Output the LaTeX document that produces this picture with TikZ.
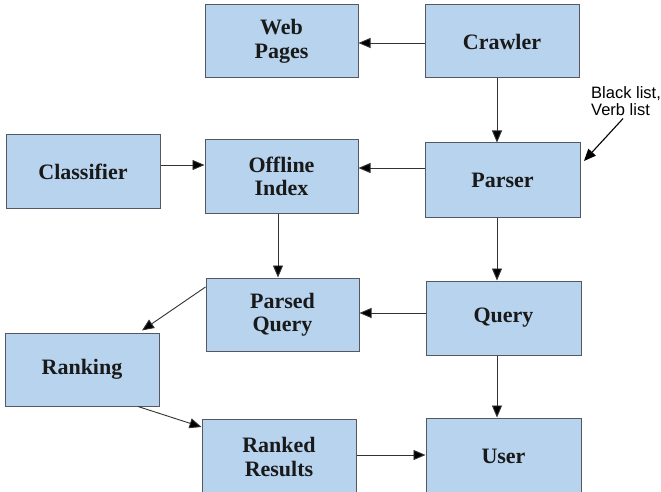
\documentclass[tikz,border=0pt]{standalone}
\usepackage{fontspec}
\setmainfont{Liberation Serif}
\newfontfamily\labelfont{Liberation Sans}
\usetikzlibrary{arrows.meta}
\definecolor{boxfill}{RGB}{183,211,238}
\definecolor{boxline}{RGB}{85,88,96}
\definecolor{arrline}{RGB}{50,50,50}
\tikzset{
  blk/.style={draw=boxline, line width=1pt, fill=boxfill, minimum width=154pt, minimum height=73pt,
    inner sep=0pt, align=center, font=\fontsize{22pt}{23.5pt}\selectfont\bfseries, text=black!90},
  arr/.style={draw=arrline, line width=0.9pt, -{Triangle[length=12pt,width=10pt,fill=black]}}
}
\begin{document}
\begin{tikzpicture}[x=1pt,y=-1pt]
\useasboundingbox (0,0) rectangle (661,492);
\fill[white] (0,0) rectangle (661,492);
\node[blk, minimum width=153pt] (web) at (281.5,41.5) {Web\\Pages};
\node[blk] (crawler) at (502,41.5) {Crawler};
\node[blk] (classifier) at (83,171.5) {Classifier};
\node[blk, minimum width=153pt] (offline) at (281.5,176.5) {Offline\\Index};
\node[blk, minimum width=155pt, minimum height=74pt] (parser) at (502.5,180) {Parser};
\node[blk, minimum width=153pt] (parsed) at (282.5,314.5) {Parsed\\Query};
\node[blk, minimum width=155pt, minimum height=74pt] (query) at (503.5,318) {Query};
\node[blk] (ranking) at (82,369.5) {Ranking};
\node[blk, minimum height=76pt] (ranked) at (279,457) {Ranked\\Results};
\node[blk, minimum width=155pt, minimum height=77pt] (user) at (503.5,456.5) {User};
\node[anchor=north west, inner sep=0pt, align=left, font=\labelfont\fontsize{16.5pt}{17pt}\selectfont] (bl) at (591,86) {Black list,\\Verb list};
\coordinate (bltip) at (584,161);

\draw[arr] ([yshift=-1.5pt]crawler.west) coordinate (a1) -- (a1 -| web.east);
\draw[arr] ([xshift=-5pt]crawler.south) coordinate (a2) -- (a2 |- parser.north);
\draw[arr] ([yshift=6.5pt]classifier.east) coordinate (a3) -- (a3 -| offline.west);
\draw[arr] ([yshift=12pt]parser.west) coordinate (a4) -- (a4 -| offline.east);
\draw[arr] ([xshift=-3.5pt]offline.south) coordinate (a5) -- (a5 |- parsed.north);
\draw[arr] ([xshift=-5.5pt]parser.south) coordinate (a6) -- (a6 |- query.north);
\draw[arr] ([yshift=5pt]query.west) coordinate (a7) -- (a7 -| parsed.east);
\draw[arr] ([yshift=27.5pt]parsed.west) -- ([xshift=60pt,yshift=2pt]ranking.north);
\draw[arr] ([xshift=56pt]ranking.south) -- ([yshift=30pt]ranked.west);
\draw[arr] ([yshift=2pt]ranked.east) coordinate (a8) -- (a8 -| user.west);
\draw[arr] ([xshift=-6.5pt]query.south) coordinate (a9) -- (a9 |- user.north);
\draw[arr, draw=black, line width=1.1pt] ([xshift=-3pt,yshift=-3pt]bl.south) -- (bltip);
\end{tikzpicture}
\end{document}
